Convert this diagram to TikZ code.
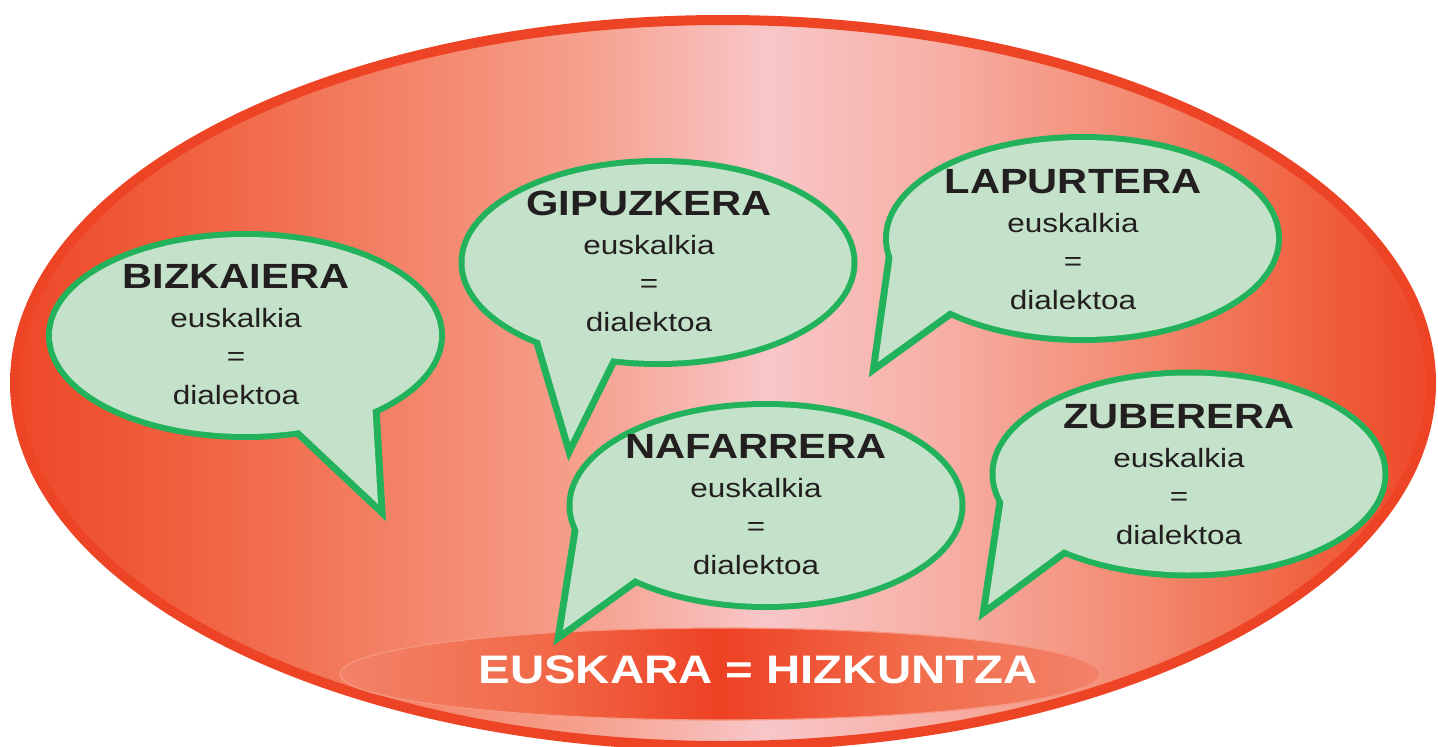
\documentclass[tikz,border=0pt]{standalone}
\usepackage{fontspec}
\setmainfont{Liberation Sans}
\definecolor{bgreen}{RGB}{34,178,92}
\definecolor{bfill}{RGB}{196,226,201}
\definecolor{txt}{RGB}{35,31,32}
\definecolor{rimred}{RGB}{238,68,38}
\definecolor{r0}{RGB}{237,72,40}
\definecolor{r1}{RGB}{240,92,58}
\definecolor{r2}{RGB}{243,126,98}
\definecolor{r3}{RGB}{246,160,140}
\definecolor{r4}{RGB}{248,198,200}
\definecolor{r5}{RGB}{247,176,166}
\definecolor{r6}{RGB}{243,136,110}
\definecolor{r7}{RGB}{240,96,62}
\definecolor{s0}{RGB}{243,130,105}
\definecolor{s1}{RGB}{241,108,75}
\definecolor{s2}{RGB}{238,65,36}
\definecolor{sedge}{RGB}{246,150,128}
\pgfdeclarehorizontalshading{bigsh}{100bp}{color(0bp)=(r0); color(25bp)=(r0); color(30bp)=(r1); color(37.5bp)=(r2); color(45bp)=(r3); color(51.5bp)=(r4); color(57.5bp)=(r5); color(65bp)=(r6); color(71bp)=(r7); color(75bp)=(r0); color(100bp)=(r0)}
\pgfdeclarehorizontalshading{smallsh}{100bp}{color(0bp)=(s0); color(25bp)=(s0); color(37.5bp)=(s1); color(50bp)=(s2); color(62.5bp)=(s1); color(75bp)=(s0); color(100bp)=(s0)}
\newcommand{\stretchx}[1]{\scalebox{1.19}[1]{#1}}
\newcommand{\speech}[4]{%
  \draw[bubstroke] #1 ellipse [x radius=193.5, y radius=98.5];
  \draw[tailstroke] #2 -- #3 -- #4;
  \fill[bubfill] #1 ellipse [x radius=193.5, y radius=98.5];
  \fill[bubfill] #2 -- #3 -- #4 -- #1 -- cycle;
}
\newcommand{\bubtext}[4]{%
  \node[ttl] (#1-t) at (#2,#3) {\stretchx{#4}};
  \node[sub] (#1-a) at (#2,#3+39) {\stretchx{euskalkia}};
  \node[sub] (#1-e) at (#2,#3+77.5) {\stretchx{=}};
  \node[sub] (#1-d) at (#2,#3+116) {\stretchx{dialektoa}};
}
\begin{document}
\begin{tikzpicture}[x=1pt,y=-1pt,
  bubstroke/.style={draw=bgreen, line width=12pt},
  tailstroke/.style={draw=bgreen, line width=14pt, line join=miter},
  bubfill/.style={fill=bfill},
  ttl/.style={anchor=base, inner sep=0pt, text=txt, font=\fontsize{35}{35}\selectfont\bfseries},
  sub/.style={anchor=base, inner sep=0pt, text=txt, font=\fontsize{26.5}{26.5}\selectfont},
  mainlbl/.style={anchor=base, inner sep=0pt, text=white, font=\fontsize{39.8}{40}\selectfont\bfseries}]
\useasboundingbox (0,0) rectangle (1438,747);
% big ellipse
\shade[shading=bigsh] (723,383) ellipse [x radius=708, y radius=363];
\draw[rimred, line width=10pt] (723,383) ellipse [x radius=708, y radius=363];
% bottom ellipse
\shade[shading=smallsh] (720,674) ellipse [x radius=380, y radius=46];
\draw[sedge, line width=1.2pt] (720,674) ellipse [x radius=380, y radius=46];
% bubbles
\speech{(245.5,335.5)}{(294,425)}{(378,504)}{(372,400)}
\speech{(658,262.5)}{(538,334)}{(570,442)}{(614,353)}
\speech{(1082.5,238.5)}{(893,255)}{(878,362)}{(975,292)}
\speech{(1189,474)}{(1005.3,490)}{(988,605)}{(1080,537)}
\speech{(766,505.5)}{(581,515)}{(563,630)}{(650,567)}
% texts
\bubtext{biz}{236}{288}{BIZKAIERA}
\bubtext{gip}{649}{215}{GIPUZKERA}
\bubtext{lap}{1073}{193}{LAPURTERA}
\bubtext{zub}{1179}{428}{ZUBERERA}
\bubtext{naf}{756}{458}{NAFARRERA}
\node[mainlbl] (main) at (758,683) {\stretchx{EUSKARA = HIZKUNTZA}};
\end{tikzpicture}
\end{document}
